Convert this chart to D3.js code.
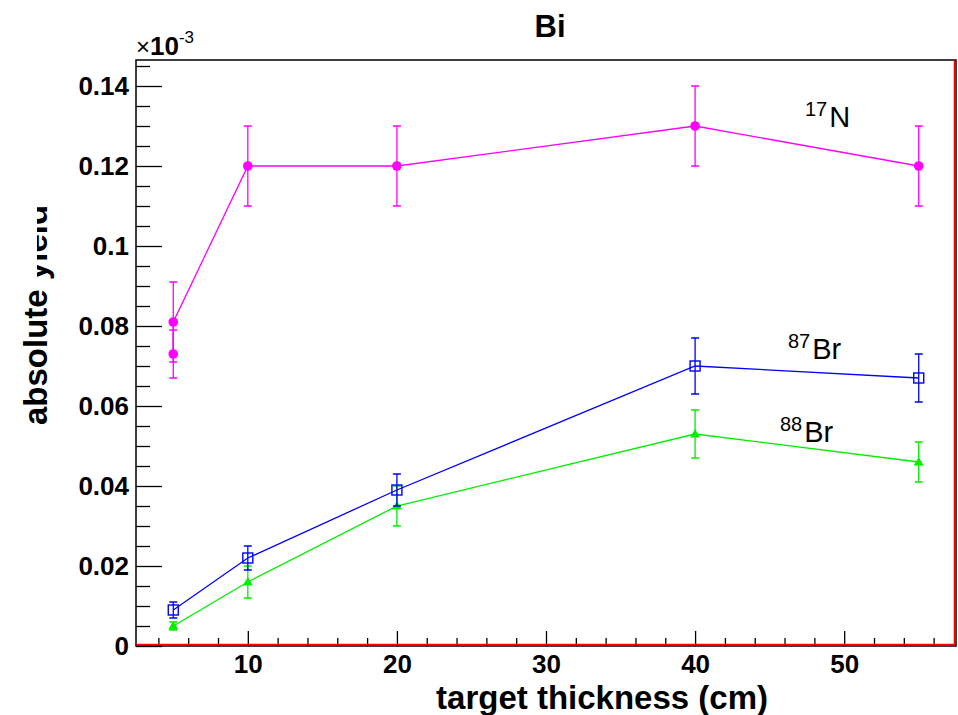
<!DOCTYPE html>
<html>
<head>
  <meta charset="UTF-8">
  <title>Bi - absolute yield vs target thickness</title>
  <style>
    body { margin: 0; background: #fff; }
    svg { display: block; font-family: "Liberation Sans", Arial, sans-serif; }
    .tick text { font-family: "Liberation Sans", Arial, sans-serif; font-weight: bold; fill: #000; }
  </style>
</head>
<body>
  <svg id="chart"></svg>
  <script src="https://d3js.org/d3.v7.min.js"></script>
  <script>
    // data (values in units of 10^-3)
    var thickN = [5, 5, 10, 20, 40, 55];
    var yieldN = [0.073, 0.081, 0.12, 0.12, 0.13, 0.12];
    var errN = [0.006, 0.010, 0.010, 0.010, 0.010, 0.010];

    var thickBr = [5, 10, 20, 40, 55];
    var yieldBr87 = [0.009, 0.022, 0.039, 0.070, 0.067];
    var errBr87 = [0.002, 0.003, 0.004, 0.007, 0.006];
    var yieldBr88 = [0.005, 0.016, 0.035, 0.053, 0.046];
    var errBr88 = [0.001, 0.004, 0.005, 0.006, 0.005];

    var xTicks = [10, 20, 30, 40, 50];
    var yTicks = [0, 0.02, 0.04, 0.06, 0.08, 0.1, 0.12, 0.14];
    var yTickLabels = ["0", "0.02", "0.04", "0.06", "0.08", "0.1", "0.12", "0.14"];

    var W = 958, H = 715;
    var frame = {left: 136, right: 956, top: 60, bottom: 646};

    var svg = d3.select("#chart").attr("width", W).attr("height", H);

    var x = d3.scaleLinear().domain([2.5, 57.5]).range([frame.left, frame.right]);
    var y = d3.scaleLinear().domain([0, 0.1465]).range([frame.bottom, frame.top]);

    // minor ticks
    var xMinor = d3.range(4, 57, 2).filter(function(v) { return v % 10 !== 0; });
    var yMinor = d3.range(0.005, 0.146, 0.005).filter(function(v) { return Math.abs(v / 0.02 - Math.round(v / 0.02)) > 0.01; });

    svg.append("g")
      .attr("transform", "translate(0," + frame.bottom + ")")
      .call(d3.axisBottom(x).tickValues(xMinor).tickSizeInner(-8).tickSizeOuter(0).tickFormat(""))
      .call(function(g) { g.select(".domain").remove(); });

    svg.append("g")
      .attr("transform", "translate(" + frame.left + ",0)")
      .call(d3.axisLeft(y).tickValues(yMinor).tickSizeInner(-14).tickSizeOuter(0).tickFormat(""))
      .call(function(g) { g.select(".domain").remove(); });

    // major ticks + labels
    svg.append("g")
      .attr("transform", "translate(0," + frame.bottom + ")")
      .call(d3.axisBottom(x).tickValues(xTicks).tickSizeInner(-15).tickSizeOuter(0).tickPadding(9))
      .call(function(g) {
        g.select(".domain").remove();
        g.selectAll("text").style("font-size", "26px");
      });

    svg.append("g")
      .attr("transform", "translate(" + frame.left + ",0)")
      .call(d3.axisLeft(y).tickValues(yTicks).tickSizeInner(-26).tickSizeOuter(0).tickPadding(7)
        .tickFormat(function(d, i) { return yTickLabels[i]; }))
      .call(function(g) {
        g.select(".domain").remove();
        g.selectAll("text").style("font-size", "26px");
      });
    svg.selectAll(".tick line").attr("stroke", "#000").attr("stroke-width", 1.3);

    // frame
    svg.append("rect")
      .attr("x", frame.left).attr("y", frame.top)
      .attr("width", frame.right - frame.left).attr("height", frame.bottom - frame.top)
      .attr("fill", "none").attr("stroke", "#000").attr("stroke-width", 1.5);
    svg.append("path")
      .attr("d", "M" + frame.left + "," + (frame.bottom - 1.5) + "H" + (frame.right - 1.5) + "V" + frame.top)
      .attr("fill", "none").attr("stroke", "#ff0000").attr("stroke-width", 1.5);

    // series drawing
    function drawSeries(xs, ys, es, color, marker) {
      var pts = xs.map(function(v, i) { return {x: v, y: ys[i], e: es[i]}; });
      var line = d3.line().x(function(d) { return x(d.x); }).y(function(d) { return y(d.y); });
      svg.append("path").datum(pts).attr("d", line)
        .attr("fill", "none").attr("stroke", color).attr("stroke-width", 1.3);

      var eb = svg.append("g").attr("stroke", color).attr("stroke-width", 1.3);
      eb.selectAll(".ebar").data(pts).enter().append("path")
        .attr("d", function(d) {
          var cx = x(d.x), t = y(d.y + d.e), b = y(d.y - d.e);
          return "M" + cx + "," + t + "V" + b +
                 "M" + (cx - 4) + "," + t + "H" + (cx + 4) +
                 "M" + (cx - 4) + "," + b + "H" + (cx + 4);
        });

      var mk = svg.append("g");
      if (marker === "circle") {
        mk.selectAll("circle").data(pts).enter().append("circle")
          .attr("cx", function(d) { return x(d.x); })
          .attr("cy", function(d) { return y(d.y); })
          .attr("r", 4.8).attr("fill", color);
      } else if (marker === "square") {
        mk.selectAll("rect").data(pts).enter().append("rect")
          .attr("x", function(d) { return x(d.x) - 5; })
          .attr("y", function(d) { return y(d.y) - 5; })
          .attr("width", 10).attr("height", 10)
          .attr("fill", "none").attr("stroke", color).attr("stroke-width", 1.4);
      } else {
        mk.selectAll("path").data(pts).enter().append("path")
          .attr("d", function(d) {
            var cx = x(d.x), cy = y(d.y);
            return "M" + (cx - 5) + "," + (cy + 3.5) + "L" + cx + "," + (cy - 5) + "L" + (cx + 5) + "," + (cy + 3.5) + "Z";
          })
          .attr("fill", color);
      }
    }

    drawSeries(thickN, yieldN, errN, "#ff00ff", "circle");
    drawSeries(thickBr, yieldBr88, errBr88, "#00ee00", "triangle");
    drawSeries(thickBr, yieldBr87, errBr87, "#0000ff", "square");

    // series labels
    function isoLabel(xp, yp, mass, name) {
      var t = svg.append("text").attr("x", xp).attr("y", yp).attr("fill", "#000");
      t.append("tspan").attr("font-size", 20).attr("dy", -11).text(mass);
      t.append("tspan").attr("font-size", 29).attr("dy", 11).attr("dx", 2).text(name);
    }
    isoLabel(805, 127, "17", "N");
    isoLabel(788, 359, "87", "Br");
    isoLabel(780, 442, "88", "Br");

    // title
    svg.append("text")
      .attr("x", 550).attr("y", 37)
      .style("text-anchor", "middle")
      .style("font-weight", "bold").style("font-size", "31px")
      .text("Bi");

    // exponent
    var ex = svg.append("text").attr("x", 136).attr("y", 55).attr("fill", "#000");
    ex.append("tspan").style("font-size", "24px").text("×");
    ex.append("tspan").style("font-size", "26px").style("font-weight", "bold").text("10");
    ex.append("tspan").style("font-size", "17px").attr("dy", -12).text("-3");

    // x axis title
    svg.append("text")
      .attr("x", 768).attr("y", 709)
      .style("text-anchor", "end")
      .style("font-weight", "bold").style("font-size", "33px")
      .text("target thickness (cm)");

    // y axis title (top part clipped as in the original)
    svg.append("clipPath").attr("id", "ylabClip")
      .append("path")
      .attr("d", "M37,0H958V715H0V285H37Z");
    svg.append("g")
      .attr("clip-path", "url(#ylabClip)")
      .append("text")
      .attr("transform", "translate(47,425) rotate(-90)")
      .style("text-anchor", "start")
      .style("font-weight", "bold").style("font-size", "33px")
      .text("absolute yield");
  </script>
</body>
</html>
